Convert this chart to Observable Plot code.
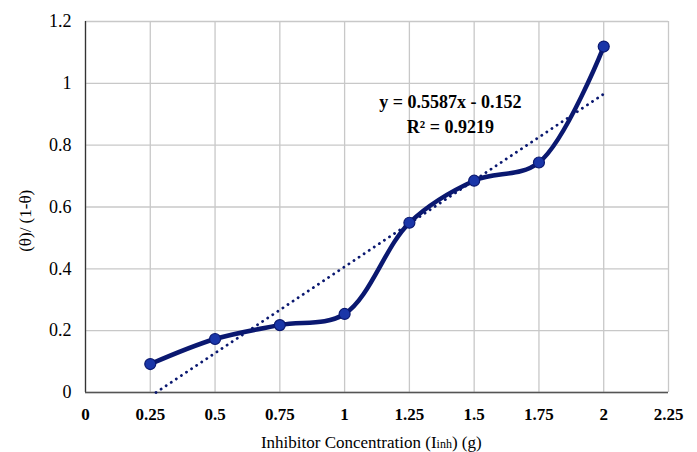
<!DOCTYPE html>
<html>
<head>
<meta charset="utf-8">
<script src="https://cdn.jsdelivr.net/npm/d3@7"></script>
<script src="https://cdn.jsdelivr.net/npm/@observablehq/plot@0.6"></script>
<style>
  body { margin: 0; background: #fff; }
  #chart { width: 697px; height: 452px; }
</style>
</head>
<body>
<div id="chart"></div>
<script>
const concentration = [0.25, 0.5, 0.75, 1, 1.25, 1.5, 1.75, 2];
const ratio = [0.092, 0.173, 0.218, 0.254, 0.549, 0.685, 0.744, 1.119];
const xTicks = [0, 0.25, 0.5, 0.75, 1, 1.25, 1.5, 1.75, 2, 2.25];
const yTicks = [0, 0.2, 0.4, 0.6, 0.8, 1, 1.2];
const slope = 0.5587;
const intercept = -0.152;
const trendX = [-intercept / slope, 2];
const equationLabel = ["y = 0.5587x - 0.152", "R² = 0.9219"];

const data = concentration.map((x, i) => ({x, y: ratio[i]}));
const trend = trendX.map(x => ({x, y: slope * x + intercept}));

const navy = "#0a1870";
const dotFill = "#1a36a8";
const serif = "Liberation Serif";

const chart = Plot.plot({
  width: 697,
  height: 452,
  marginLeft: 85,
  marginRight: 29,
  marginTop: 21,
  marginBottom: 60,
  style: {background: "#fff", color: "#000"},
  x: {domain: [0, 2.25], ticks: xTicks, tickFormat: d => String(d)},
  y: {domain: [0, 1.2], ticks: yTicks, tickFormat: d => String(d)},
  marks: [
    Plot.gridX(xTicks, {stroke: "#c8c8c8", strokeOpacity: 1, strokeWidth: 1.3}),
    Plot.gridY(yTicks, {stroke: "#c8c8c8", strokeOpacity: 1, strokeWidth: 1.3}),
    Plot.axisX({ticks: xTicks, tickSize: 0, tickPadding: 15, tickFormat: d => String(d), fontWeight: "bold", fontSize: 17, fontFamily: serif, label: null}),
    Plot.axisY({ticks: yTicks, tickSize: 0, tickPadding: 14, tickFormat: d => String(d), fontSize: 18, fontFamily: serif, label: null}),
    Plot.ruleX([0], {stroke: "#333", strokeWidth: 1.3}),
    Plot.ruleY([0], {stroke: "#555", strokeWidth: 1.6}),
    Plot.line(trend, {x: "x", y: "y", stroke: navy, strokeWidth: 2.8, strokeDasharray: "0.1,6", strokeLinecap: "round"}),
    Plot.line(data, {x: "x", y: "y", stroke: navy, strokeWidth: 4.5, curve: "catmull-rom"}),
    Plot.dot(data, {x: "x", y: "y", r: 5.5, fill: dotFill, stroke: navy, strokeWidth: 1.2}),
    Plot.text([equationLabel.join("\n")], {x: 1.408, y: 0.905, text: d => d, fontWeight: "bold", fontSize: 18, fontFamily: serif, lineHeight: 1.4, fill: "#000"}),
    Plot.text(["(θ)/ (1-θ)"], {frameAnchor: "left", y: 0.455, dx: -60, rotate: -90, text: d => d, fontSize: 17, fontFamily: serif, fill: "#000"})
  ]
});

// x-axis title with the small "inh" lettering
const svg = d3.select(chart);
const t = svg.append("text")
  .attr("x", 85 + (668 - 85) * (1.105 / 2.25))
  .attr("y", 448)
  .attr("text-anchor", "middle")
  .attr("font-family", serif)
  .attr("font-size", 17)
  .attr("fill", "#000");
t.append("tspan").text("Inhibitor Concentration (I");
t.append("tspan").attr("font-size", 12).text("inh");
t.append("tspan").text(") (g)");

document.getElementById("chart").appendChild(chart);
</script>
</body>
</html>
